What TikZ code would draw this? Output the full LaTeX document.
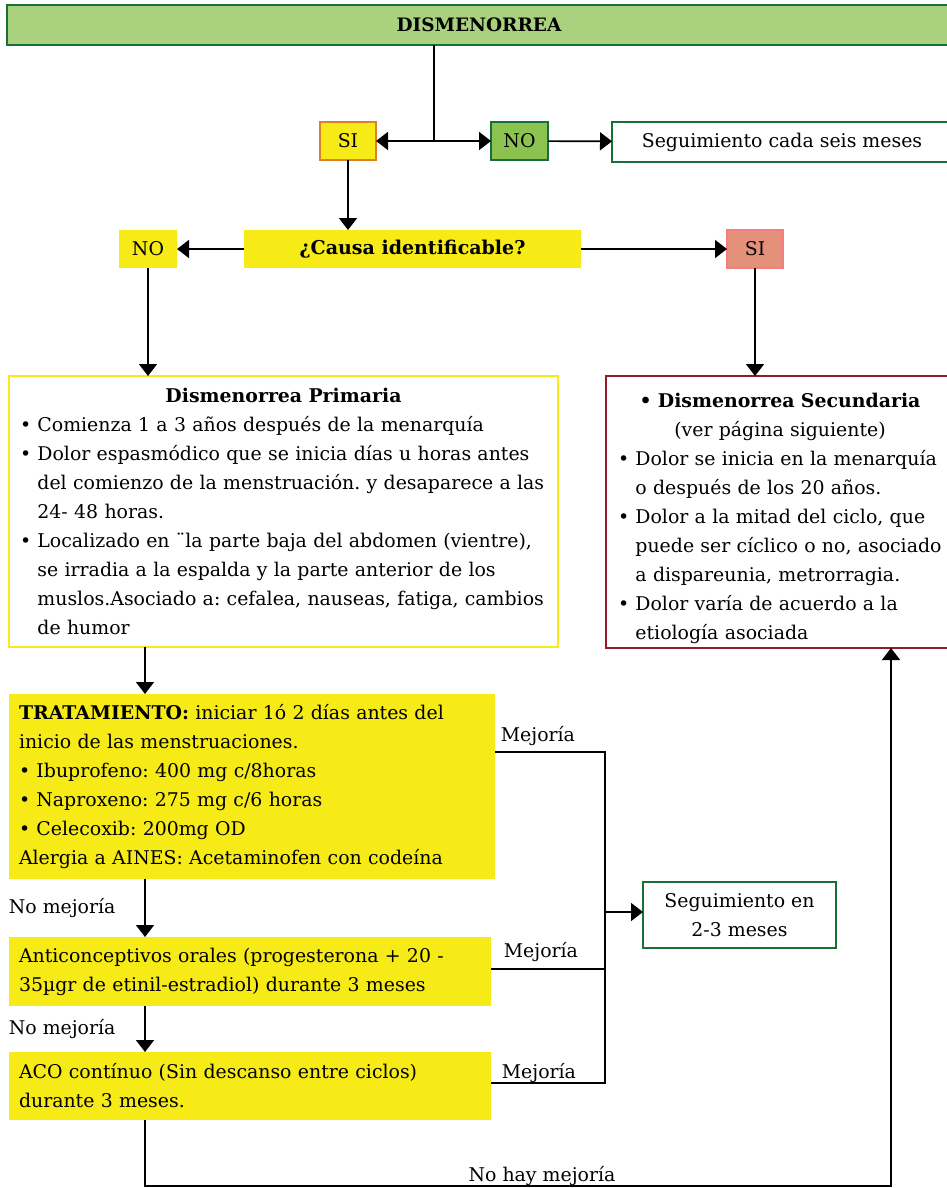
\documentclass[tikz,border=0pt]{standalone}
\usepackage{fontspec}
\setmainfont{DejaVu Serif}
\usetikzlibrary{arrows.meta}
\definecolor{lgreen}{RGB}{169,209,126}
\definecolor{mgreen}{RGB}{140,195,80}
\definecolor{dkgreen}{RGB}{24,112,56}
\definecolor{yel}{RGB}{246,235,22}
\definecolor{orangeb}{RGB}{222,128,40}
\definecolor{salmon}{RGB}{228,145,122}
\definecolor{salmonb}{RGB}{245,125,130}
\definecolor{darkred}{RGB}{150,25,40}
\tikzset{
  rbox/.style={anchor=north west, inner sep=0pt, outer sep=0pt},
  txt/.style={font=\frenchspacing\fontsize{18.9}{29}\selectfont},
  arr/.style={-{Triangle[width=18pt,length=12pt]}},
  arrboth/.style={{Triangle[width=18pt,length=12pt]}-{Triangle[width=18pt,length=12pt]}},
  plain/.style={line width=1.5pt},
}
\newcommand{\bul}{\textbullet\ }
\newcommand{\ind}{\phantom{\textbullet\ }}
\begin{document}
\begin{tikzpicture}[x=1pt,y=-1pt,line width=1.7pt]
\useasboundingbox (0,0) rectangle (947,1188);

% nodes
\node[rbox, draw=dkgreen, fill=lgreen, line width=2.5pt, minimum width=944pt, minimum height=40pt,
      font=\bfseries\fontsize{18.5}{20}\selectfont] (top) at (7,5) {DISMENORREA};
\node[rbox, txt, draw=orangeb, fill=yel, line width=2pt, minimum width=56pt, minimum height=38pt] (si1) at (320,122) {SI};
\node[rbox, txt, draw=dkgreen, fill=mgreen, line width=2pt, minimum width=57pt, minimum height=38pt] (no1) at (491,122) {NO};
\node[rbox, txt, draw=dkgreen, fill=white, line width=2.5pt, minimum width=340pt, minimum height=40pt] (seg1) at (612,122) {Seguimiento cada seis meses};

\node[rbox, fill=yel, minimum width=337pt, minimum height=38pt, font=\bfseries\fontsize{19}{20}\selectfont] (causa) at (244,230) {¿Causa identificable?};
\node[rbox, txt, fill=yel, minimum width=58pt, minimum height=38pt] (no2) at (119,230) {NO};
\node[rbox, txt, draw=salmonb, fill=salmon, line width=1.5pt, minimum width=56pt, minimum height=38pt] (si2) at (727,230) {SI};

\node[rbox, txt, draw=yel, line width=2pt, minimum width=549pt, minimum height=271pt, text width=527pt] (prim) at (9,376)
{{\centering\textbf{Dismenorrea Primaria}\par}\raggedright
\bul Comienza 1 a 3 años después de la menarquía\\
\bul Dolor espasmódico que se inicia días u horas antes\\
\ind del comienzo de la menstruación. y desaparece a las\\
\ind 24- 48 horas.\\
\bul Localizado en ¨la parte baja del abdomen (vientre),\\
\ind se irradia a la espalda y la parte anterior de los\\
\ind muslos.Asociado a: cefalea, nauseas, fatiga, cambios\\
\ind de humor\par};

\node[rbox, txt, draw=darkred, line width=2pt, minimum width=348pt, minimum height=272pt, text width=324pt] (sec) at (606,376)
{{\centering\rule{0pt}{27pt}\textbf{\textbullet\ Dismenorrea Secundaria}\\(ver página siguiente)\par}\raggedright
\bul Dolor se inicia en la menarquía\\
\ind o después de los 20 años.\\
\bul Dolor a la mitad del ciclo, que\\
\ind puede ser cíclico o no, asociado\\
\ind a dispareunia, metrorragia.\\
\bul Dolor varía de acuerdo a la\\
\ind etiología asociada\par};

\node[rbox, txt, fill=yel, minimum width=486pt, minimum height=185pt, text width=466pt] (tr) at (9,694)
{\raggedright\textbf{TRATAMIENTO:} iniciar 1ó 2 días antes del\\
inicio de las menstruaciones.\\
\bul Ibuprofeno: 400 mg c/8horas\\
\bul Naproxeno: 275 mg c/6 horas\\
\bul Celecoxib: 200mg OD\\
Alergia a AINES: Acetaminofen con codeína\par};

\node[rbox, txt, fill=yel, minimum width=482pt, minimum height=69pt, text width=462pt] (ant) at (9,937)
{\raggedright Anticonceptivos orales (progesterona + 20 -\\
35µgr de etinil-estradiol) durante 3 meses\par};

\node[rbox, txt, fill=yel, minimum width=482pt, minimum height=68pt, text width=462pt] (aco) at (9,1052)
{\raggedright ACO contínuo (Sin descanso entre ciclos)\\
durante 3 meses.\par};

\node[rbox, txt, draw=dkgreen, line width=2.5pt, minimum width=193pt, minimum height=66pt, align=center] (seg2) at (643,882)
{Seguimiento en\\2-3 meses};

% labels
\node[txt, anchor=base west, inner sep=0pt] (lm1) at (500,741) {Mejoría};
\node[txt, anchor=base west, inner sep=0pt] (lm2) at (503,957) {Mejoría};
\node[txt, anchor=base west, inner sep=0pt] (lm3) at (501,1078) {Mejoría};
\node[txt, anchor=base west, inner sep=0pt] (ln1) at (8,913) {No mejoría};
\node[txt, anchor=base west, inner sep=0pt] (ln2) at (8,1034) {No mejoría};
\node[txt, anchor=base, inner sep=0pt] (ln3) at (542,1181) {No hay mejoría};

% connectors
\coordinate (j1) at (434,141);
\draw (top.south -| j1) -- (j1);
\draw[arrboth] (si1) -- (no1);
\draw[arr] (no1) -- (seg1);
\draw[arr] (si1) -- (si1 |- causa.north);
\draw[arr] (causa) -- (no2);
\draw[arr] (causa) -- (si2);
\draw[arr] (no2) -- (no2 |- prim.north);
\draw[arr] (si2) -- (si2 |- sec.north);

\coordinate (c1) at (145,0);
\draw[arr, plain] (prim.south -| c1) -- (tr.north -| c1);
\draw[arr, plain] (tr.south -| c1) -- (ant.north -| c1);
\draw[arr, plain] (ant.south -| c1) -- (aco.north -| c1);

\coordinate (m1) at (605,752);
\coordinate (m2) at (605,969);
\coordinate (m3) at (605,1083);
\coordinate (m0) at (605,912);
\draw[plain] (tr.east |- m1) -- (m1) -- (m3) -- (aco.east |- m3);
\draw[plain] (ant.east |- m2) -- (m2);
\draw[arr, plain] (m0) -- (seg2.west |- m0);

\coordinate (b1) at (145,1186);
\coordinate (b2) at (891,1186);
\draw[arr, plain] (aco.south -| b1) -- (b1) -- (b2) -- (sec.south -| b2);
\end{tikzpicture}
\end{document}
